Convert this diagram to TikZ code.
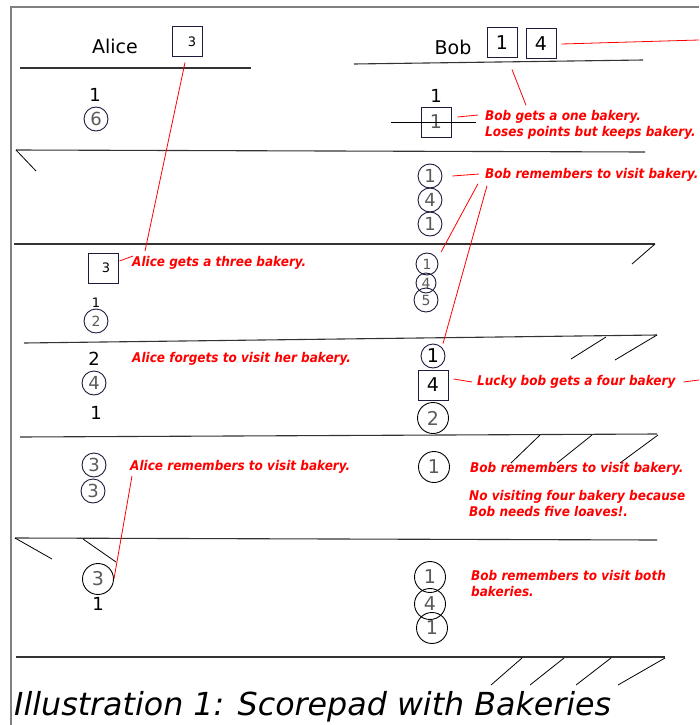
\documentclass[tikz,border=0pt]{standalone}
\usepackage{fontspec}
\setmainfont{DejaVu Sans}
\newfontfamily\notefont{DejaVu Sans}[FakeStretch=0.9]
\usetikzlibrary{positioning, calc}
\definecolor{ink}{HTML}{1C1C3C}
\definecolor{digit}{HTML}{5A5A5A}
\definecolor{framegray}{HTML}{808080}
\newcommand{\pxfont}[1]{\fontsize{#1}{#1}\selectfont}
\tikzset{
  loaf/.style={
    circle, draw=ink, line width=0.9pt, text=digit,
    minimum size=24pt, inner sep=0pt, font=\pxfont{18},
  },
  bigloaf/.style={loaf, draw=black, minimum size=31pt, font=\pxfont{19}},
  bakery/.style={
    rectangle, draw=ink, line width=1pt,
    minimum size=30pt, inner sep=0pt, font=\pxfont{19},
  },
  tally/.style={font=\pxfont{18}, inner sep=0pt},
  note/.style={
    text=red, anchor=west, align=left, inner sep=0pt, yshift=-2pt,
    font=\notefont\fontsize{13.4}{16}\selectfont\bfseries\itshape,
  },
  lead/.style={draw=red, line width=0.8pt},
  rule/.style={draw=black!80, line width=1.1pt},
  hatch/.style={draw=black, line width=0.8pt},
}

\begin{document}
\begin{tikzpicture}[x=1pt, y=-1pt]

  \useasboundingbox (0,0) rectangle (699,725);
  \draw[framegray, line width=1.3pt] (11,725) -- (11,7) -- (699,7);

  % score lines
  \draw[rule] (20,68)  -- (251,68);
  \draw[rule] (354,64) -- (643,60);
  \draw[rule] (16,150) -- (645,152);
  \draw[rule] (14,244) -- (655,244);
  \draw[rule] (24,343) -- (657,335);
  \draw[rule] (20,437) -- (657,434);
  \draw[rule] (15,538) -- (657,540);
  \draw[rule] (16,657) -- (665,657);

  \draw[hatch] (16,150) -- (36,171);
  \draw[hatch] (655,244) -- (632,264);
  \draw[hatch] (606,337) -- (571,359);
  \draw[hatch] (657,335) -- (615,360);
  \foreach \a/\b in {540/511, 592/557, 658/620}
    \draw[hatch] (\a,435) -- (\b,463);
  \draw[hatch] (15,538) -- (52,559);
  \draw[hatch] (83,539) -- (116,562);
  \foreach \a/\b in {522/491, 564/530, 611/576, 665/618}
    \draw[hatch] (\a,658) -- (\b,685);

  % Alice
  \node[tally, font=\pxfont{19}] (alice) at (115,46) {Alice};
  \node[bakery, font=\pxfont{13}] (aB3) at (187,42) {\hspace{10pt}3};
  \node[tally] (a1r) at (95,95)  {1};
  \node[loaf]  (a1l) at (96,119) {6};
  \node[bakery, font=\pxfont{13}] (aB3b) at (103,268) {\hspace{6pt}3};
  \node[tally, font=\pxfont{13}] (a3r) at (96,303) {1};
  \node[loaf, font=\pxfont{14}]  (a3l) at (96,321) {2};
  \node[tally] (a4r)  at (94,359) {2};
  \node[loaf]  (a4l)  at (94,383) {4};
  \node[tally] (a4r2) at (96,413) {1};
  \node[loaf]  (a5l1) at (94,465) {3};
  \node[loaf]  (a5l2) at (93,491) {3};
  \node[bigloaf] (a6l) at (98,579) {3};
  \node[tally] (a6r) at (98,604) {1};

  % Bob
  \node[tally, font=\pxfont{19}] (bob) at (453,47) {Bob};
  \node[bakery] (bB1) at (502,43) {1};
  \node[bakery] (bB4) at (541,44) {4};
  \node[tally]  (b1r) at (436,96) {1};
  \node[bakery, text=digit] (b1B) at (436,122) {1};
  \draw[hatch] ([xshift=-30pt]b1B.west) -- ([xshift=24pt]b1B.east);
  \node[loaf] (b2l1) at (430,176) {1};
  \node[loaf] (b2l2) at (430,200) {4};
  \node[loaf] (b2l3) at (430,224) {1};
  \node[loaf, minimum size=22pt, font=\pxfont{14}] (b3l1) at (427,264) {1};
  \node[loaf, minimum size=20pt, font=\pxfont{14}] (b3l2) at (426,283) {4};
  \node[loaf, minimum size=24pt, font=\pxfont{14}] (b3l3) at (426,300) {5};
  \node[loaf, text=black, font=\pxfont{19}] (b4l1) at (433,356) {1};
  \node[bakery, text=black] (b4B) at (433,385) {4};
  \node[bigloaf] (b4l2) at (433,418) {2};
  \node[bigloaf] (b5l)  at (434,467) {1};
  \node[bigloaf] (b6l1) at (430,577) {1};
  \node[bigloaf] (b6l2) at (430,604) {4};
  \node[bigloaf] (b6l3) at (432,628) {1};

  % notes
  \node[note] (nA1) at (132,261) {Alice gets a three bakery.};
  \node[note] (nA2) at (132,357) {Alice forgets to visit her bakery.};
  \node[note] (nA3) at (130,465) {Alice remembers to visit bakery.};
  \node[note] (nB1) at (485,123) {Bob gets a one bakery.\\Loses points but keeps bakery.};
  \node[note] (nB2) at (485,173) {Bob remembers to visit bakery.};
  \node[note] (nB3) at (477,380) {Lucky bob gets a four bakery};
  \node[note] (nB4) at (470,467) {Bob remembers to visit bakery.};
  \node[note] (nB5) at (469,501) {No visiting four bakery because\\Bob needs five loaves!.};
  \node[note] (nB6) at (471,581) {Bob remembers to visit both\\bakeries.};

  \coordinate (offT) at (699,40);
  \coordinate (offR) at (699,380);

  \draw[lead] ([shift={(-2pt,-5pt)}]aB3.south) -- ([shift={(13pt,12pt)}]nA1.west);
  \draw[lead] ([shift={(1pt,7pt)}]aB3b.east) -- ([shift={(1pt,7pt)}]nA1.west);
  \draw[lead] ([shift={(2pt,-9pt)}]nA3.west) -- (a6l.east);
  \draw[lead] ([xshift=5pt]bB4.east) -- (offT);
  \draw[lead] ([shift={(10pt,-11pt)}]bB1.south) -- ([shift={(41pt,5pt)}]nB1.north west);
  \draw[lead] ([shift={(6pt,5pt)}]b1B.east) -- ([shift={(-7pt,10pt)}]nB1.west);
  \draw[lead] ([xshift=10pt]b2l1.east) -- ([shift={(-6pt,1pt)}]nB2.west);
  \draw[lead] ([shift={(-7pt,-2pt)}]nB2.south west) -- ([shift={(6pt,4pt)}]b3l1.north east);
  \draw[lead] ([shift={(2pt,-4pt)}]nB2.south west) -- ([xshift=10pt]b4l1.north);
  \draw[lead] ([shift={(5pt,6pt)}]b4B.east) -- ([xshift=-5pt]nB3.west);
  \draw[lead] ([xshift=8pt]nB3.east) -- (offR);

  \node[anchor=base west, inner sep=0pt, font=\pxfont{31.7}\itshape] (caption)
    at (14,715) {Illustration 1: Scorepad with Bakeries};

\end{tikzpicture}
\end{document}
